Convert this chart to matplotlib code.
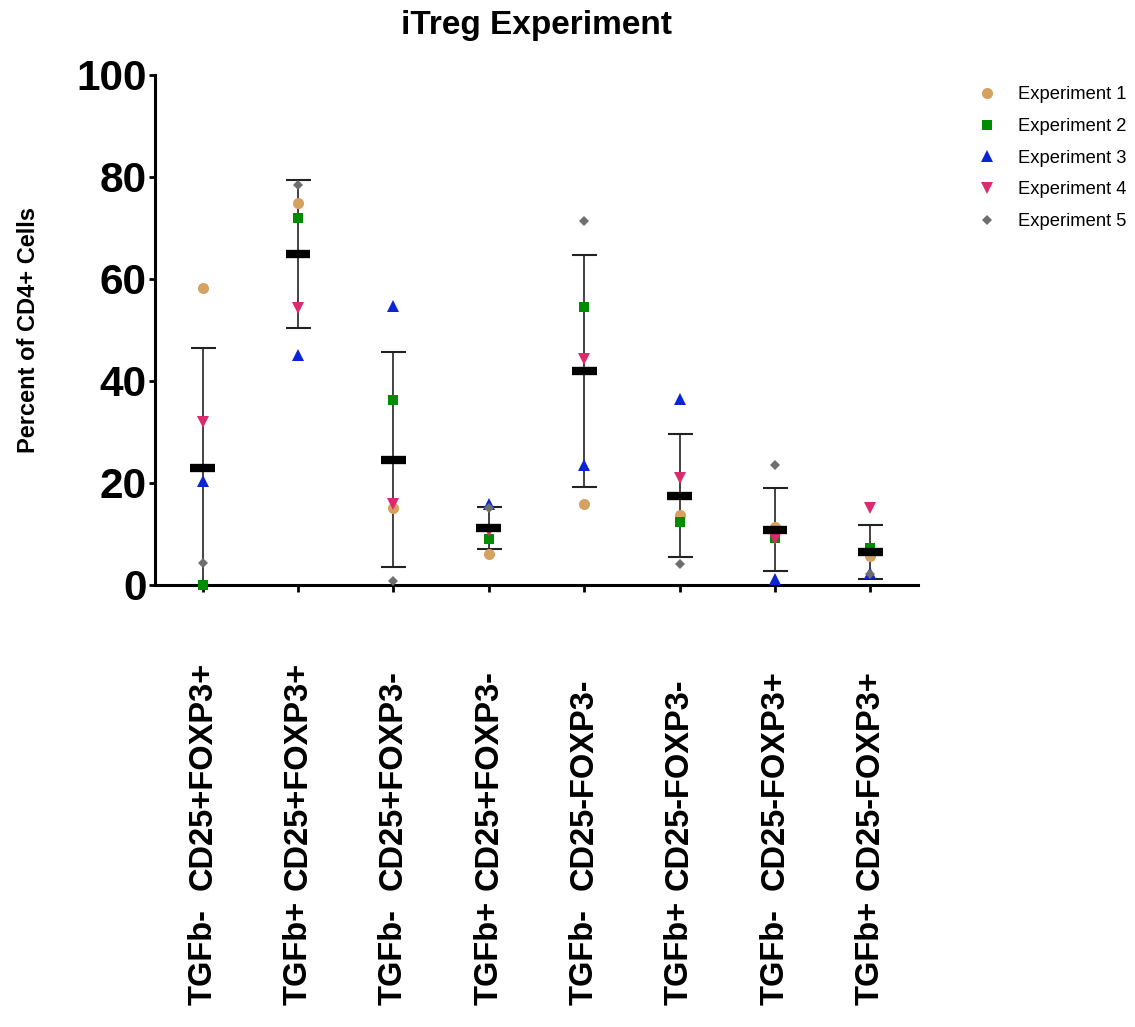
import numpy as np
import matplotlib.pyplot as plt

# groups (treatment, population)
treatments = ['TGFb-', 'TGFb+', 'TGFb-', 'TGFb+', 'TGFb-', 'TGFb+', 'TGFb-', 'TGFb+']
populations = ['CD25+FOXP3+', 'CD25+FOXP3+', 'CD25+FOXP3-', 'CD25+FOXP3-',
               'CD25-FOXP3-', 'CD25-FOXP3-', 'CD25-FOXP3+', 'CD25-FOXP3+']

# percent of CD4+ cells per experiment, one value per group
exp1 = [58.2, 74.8, 15.1, 6.0, 15.8, 13.7, 11.4, 5.6]
exp2 = [0.0, 71.9, 36.3, 9.0, 54.6, 12.4, 9.2, 7.2]
exp3 = [20.3, 45.1, 54.7, 15.8, 23.5, 36.5, 1.1, 2.3]
exp4 = [32.0, 54.3, 15.8, 10.5, 44.4, 20.9, 9.0, 15.0]
exp5 = [4.4, 78.4, 0.8, 15.0, 71.4, 4.2, 23.6, 2.2]

exp_names = ['Experiment 1', 'Experiment 2', 'Experiment 3', 'Experiment 4', 'Experiment 5']
exp_colors = ['#D4A261', '#008C00', '#0A24D6', '#DB2A6E', '#6E6E6E']
exp_markers = ['o', 's', '^', 'v', 'D']
exp_sizes = [8, 7.5, 8.5, 8.5, 5.5]

plt.rcParams['font.family'] = ['Liberation Sans', 'DejaVu Sans']

data = np.array([exp1, exp2, exp3, exp4, exp5])
means = data.mean(axis=0)
sds = data.std(axis=0, ddof=1)
x = np.arange(len(treatments))

fig = plt.figure(figsize=(11.35, 10.27), dpi=100)
ax = fig.add_axes([0.1366, 0.4304, 0.6722, 0.4966])

# SD error bars
ax.errorbar(x, means, yerr=sds, fmt='none', ecolor='#222222', elinewidth=1.2,
            capsize=9, capthick=1.5, zorder=2)

# individual experiments
for vals, name, c, m, s in zip(data, exp_names, exp_colors, exp_markers, exp_sizes):
    ax.plot(x, vals, linestyle='none', marker=m, color=c, markersize=s,
            markeredgewidth=0, label=name, zorder=3, clip_on=False)

# mean bars
ax.hlines(means, x - 0.13, x + 0.13, colors='black', linewidth=6, zorder=4)

ax.set_xlim(-0.5, 7.5)
ax.set_ylim(0, 100)
ax.set_yticks([0, 20, 40, 60, 80, 100])
ax.set_xticks(x)
ax.set_xticklabels([])
ax.tick_params(axis='y', labelsize=30.5, width=2, length=4, pad=2)
ax.tick_params(axis='x', width=2, length=5)
for lab in ax.get_yticklabels():
    lab.set_fontweight('bold')
ax.spines['top'].set_visible(False)
ax.spines['right'].set_visible(False)
ax.spines['left'].set_linewidth(2.2)
ax.spines['bottom'].set_linewidth(2.2)

ax.set_ylabel('Percent of CD4+ Cells', fontsize=17, fontweight='bold', labelpad=26)
fig.text(0.473, 0.975, 'iTreg Experiment', fontsize=24, fontweight='bold',
         ha='center', va='center')

# two-part rotated category labels
trans = ax.get_xaxis_transform()
for xi, t, p in zip(x, treatments, populations):
    ax.text(xi, -0.598, p, rotation=90, ha='center', va='bottom', fontsize=23.5,
            fontweight='bold', transform=trans)
    ax.text(xi, -0.824, t, rotation=90, ha='center', va='bottom', fontsize=23.5,
            fontweight='bold', transform=trans)

fig.legend(loc='upper left', bbox_to_anchor=(0.855, 0.923), frameon=False,
           fontsize=13.2, handlelength=1.0, handletextpad=1.2, labelspacing=0.8,
           borderaxespad=0)

fig.savefig('out.png', dpi=100)
